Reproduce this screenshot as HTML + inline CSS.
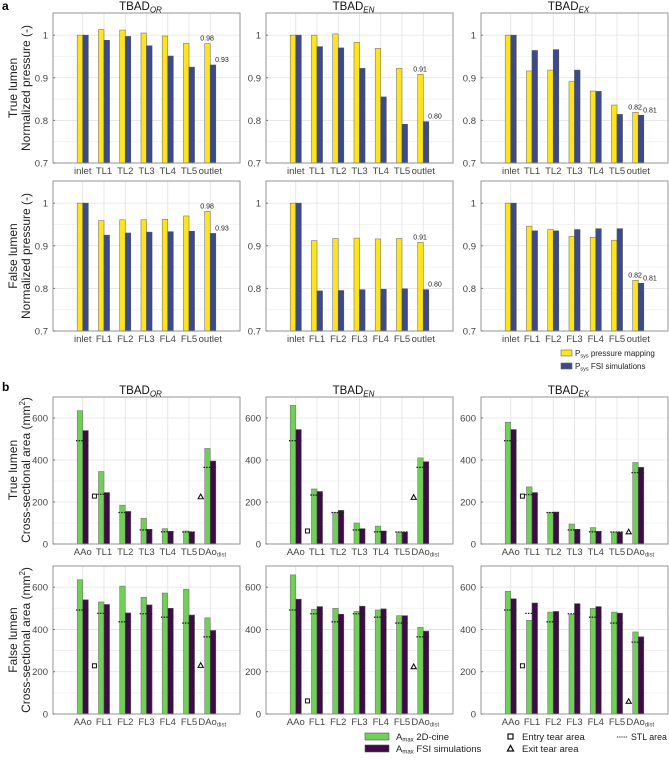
<!DOCTYPE html>
<html><head><meta charset="utf-8"><style>
body{margin:0;background:#fff;font-family:"Liberation Sans",sans-serif}
svg text{font-family:"Liberation Sans",sans-serif}
</style></head><body>
<svg id="c" width="669" height="756" xmlns="http://www.w3.org/2000/svg"></svg>
<script>
const catsA=["inlet","TL1","TL2","TL3","TL4","TL5","outlet"];
const catsAF=["inlet","FL1","FL2","FL3","FL4","FL5","outlet"];
const catsB=["AAo","TL1","TL2","TL3","TL4","TL5","DAo"];
const catsBF=["AAo","FL1","FL2","FL3","FL4","FL5","DAo"];
const titles=["OR","EN","EX"];
const pmapTL_OR=[1,1.013,1.012,1.005,0.998,0.981,0.98];
const pfsiTL_OR=[1,0.988,0.997,0.975,0.951,0.925,0.93];
const pmapTL_EN=[1,1.0,1.003,0.983,0.969,0.922,0.908];
const pfsiTL_EN=[1,0.973,0.970,0.922,0.855,0.791,0.797];
const pmapTL_EX=[1,0.916,0.918,0.891,0.869,0.836,0.819];
const pfsiTL_EX=[1,0.964,0.966,0.918,0.868,0.814,0.812];
const pmapFL_OR=[1,0.959,0.961,0.961,0.962,0.970,0.981];
const pfsiFL_OR=[1,0.925,0.930,0.932,0.933,0.934,0.929];
const pmapFL_EN=[1,0.912,0.917,0.918,0.916,0.917,0.908];
const pfsiFL_EN=[1,0.794,0.795,0.797,0.798,0.799,0.797];
const pmapFL_EX=[1,0.946,0.938,0.922,0.920,0.913,0.819];
const pfsiFL_EX=[1,0.935,0.935,0.938,0.940,0.940,0.812];
const outLabMap=["0.98","0.91","0.82"];
const outLabFsi=["0.93","0.80","0.81"];
const cineTL_OR=[635,345,185,122,73,62,455];
const fsiTL_OR=[540,245,155,70,60,58,395];
const stlTL_OR=[492,237,150,67,58,57,365];
const cineTL_EN=[660,262,150,100,85,57,410];
const fsiTL_EN=[545,250,160,73,62,57,392];
const stlTL_EN=[492,233,150,67,58,57,365];
const cineTL_EX=[580,272,150,95,78,57,388];
const fsiTL_EX=[545,245,152,70,60,57,365];
const stlTL_EX=[492,235,150,67,58,57,340];
const cineFL_OR=[635,530,605,552,572,590,455];
const fsiFL_OR=[540,518,478,516,500,468,395];
const stlFL_OR=[492,476,436,474,458,430,365];
const cineFL_EN=[658,495,500,485,492,465,410];
const fsiFL_EN=[543,508,472,510,497,465,392];
const stlFL_EN=[492,474,436,474,458,430,365];
const cineFL_EX=[580,443,482,470,500,482,388];
const fsiFL_EX=[545,525,485,522,508,477,365];
const stlFL_EX=[492,476,436,474,458,430,340];
const entryTear=[228,62,228];
const exitTear=[225,222,58];
const entryTearF=[228,62,228];
const exitTearF=[230,224,60];

const NS="http://www.w3.org/2000/svg";
const svg=document.getElementById('c');
function mk(tag,attrs,parent){const e=document.createElementNS(NS,tag);for(const k in attrs)e.setAttribute(k,attrs[k]);(parent||svg).appendChild(e);return e;}
function txt(s,x,y,size,anchor,fill,parent){const t=mk('text',{x:x,y:y,'font-size':size,'text-anchor':anchor||'middle',fill:fill||'#333'},parent);t.textContent=s;return t;}

const LEFTS=[53,266,481],W=187,XMIN=-0.4,XMAX=8.4,BW=0.26;

function panel(opts){
  const g=mk('g',{});
  
  
  const L=opts.left,T=opts.top,H=opts.h;
  const sx=v=>L+(v-XMIN)/(XMAX-XMIN)*W;
  const sy=v=>T+H-(v-opts.ymin)/(opts.ymax-opts.ymin)*H;
  const bw=sx(BW)-sx(0);
  opts.minor.forEach(v=>mk('line',{x1:L,x2:L+W,y1:sy(v),y2:sy(v),stroke:'#f0f0f0','stroke-width':0.8},g));
  opts.ticks.forEach(v=>mk('line',{x1:L,x2:L+W,y1:sy(v),y2:sy(v),stroke:'#e2e2e2','stroke-width':0.8},g));
  for(let i=1;i<=7;i++)mk('line',{x1:sx(i),x2:sx(i),y1:T,y2:T+H,stroke:'#e2e2e2','stroke-width':0.8},g);
  opts.s1.forEach((v,i)=>{const r=mk('rect',{x:sx(i+1-BW),y:sy(v),width:bw,height:sy(opts.ymin)-sy(v),fill:opts.c1,stroke:'#777','stroke-width':0.6},g);
    
    });
  opts.s2.forEach((v,i)=>{const r=mk('rect',{x:sx(i+1),y:sy(v),width:bw,height:sy(opts.ymin)-sy(v),fill:opts.c2,stroke:'#555','stroke-width':0.6},g);
    
    });
  if(opts.stl)opts.stl.forEach((v,i)=>{const l=mk('line',{x1:sx(i+1-0.32),x2:sx(i+1+0.32),y1:sy(v),y2:sy(v),stroke:'#222','stroke-width':1.3,'stroke-dasharray':'1.5,1.2'},g);
    
    });
  if(opts.entry!=null){const s=mk('rect',{x:sx(1.55)-2,y:sy(opts.entry)-2,width:4,height:4,fill:'#fff',stroke:'#111','stroke-width':1},g);
    }
  if(opts.exit!=null){const x=sx(6.55),y=sy(opts.exit);const p=mk('polygon',{points:`${x-2.6},${y+2} ${x+2.6},${y+2} ${x},${y-2.6}`,fill:'#fff',stroke:'#111','stroke-width':1.1},g);
    }
  if(opts.lab1){txt(opts.lab1,sx(6.85),sy(opts.s1[6])-3,7,'middle','#222',g);
    txt(opts.lab2,sx(7.55),sy(opts.s2[6])-3,7,'middle','#222',g);}
  mk('rect',{x:L,y:T,width:W,height:H,fill:'none',stroke:'#8a8a8a','stroke-width':0.9},g);
  opts.ticks.forEach(v=>{mk('line',{x1:L,x2:L+2,y1:sy(v),y2:sy(v),stroke:'#777'},g);txt(opts.tf(v),L-5,sy(v)+3.5,9.5,'end','#444',g);});
  opts.cats.forEach((c,i)=>{
    const t=txt(c,sx(i+1)+(c==='DAo'?2:0),T+H+11,9.5,'middle','#444',g);
    if(c==='DAo'){const ts=mk('tspan',{'font-size':6,dy:1.5},t);ts.textContent='dist';}
  });
  if(opts.title){const t=txt('TBAD',L+W/2-6,T-3,11.5,'middle','#111',g);const ts=mk('tspan',{'font-size':8,'font-style':'italic',dy:2.5},t);ts.textContent=opts.title;
    }
  return g;
}
function ylabel(l1,l2,cy,sup){
  const t1=txt(l1,0,0,12,'middle','#222');t1.setAttribute('transform',`translate(17,${cy}) rotate(-90)`);
  
  const t2=txt(l2,0,0,12,'middle','#222');t2.setAttribute('transform',`translate(30,${cy}) rotate(-90)`);
  
  if(sup){const s=mk('tspan',{'font-size':8,dy:-5},t2);s.textContent='2';const s2=mk('tspan',{dy:5},t2);s2.textContent=')';}
}
const pT=[[pmapTL_OR,pfsiTL_OR],[pmapTL_EN,pfsiTL_EN],[pmapTL_EX,pfsiTL_EX]];
const pF=[[pmapFL_OR,pfsiFL_OR],[pmapFL_EN,pfsiFL_EN],[pmapFL_EX,pfsiFL_EX]];
const aT=[[cineTL_OR,fsiTL_OR,stlTL_OR],[cineTL_EN,fsiTL_EN,stlTL_EN],[cineTL_EX,fsiTL_EX,stlTL_EX]];
const aF=[[cineFL_OR,fsiFL_OR,stlFL_OR],[cineFL_EN,fsiFL_EN,stlFL_EN],[cineFL_EX,fsiFL_EX,stlFL_EX]];
const pf=v=>v===1?'1':v.toFixed(1);
const YEL='#ffe41c',BLU='#3b4a8c',GRN='#6fcf56',PUR='#3e0a47';
for(let k=0;k<3;k++){
  panel({name:'pressure-tl-'+titles[k].toLowerCase(),left:LEFTS[k],top:13,h:150,ymin:0.7,ymax:1.052,ticks:[0.7,0.8,0.9,1],minor:[0.75,0.85,0.95],tf:pf,cats:catsA,s1:pT[k][0],s2:pT[k][1],c1:YEL,c2:BLU,key1:'pmap',key2:'pfsi',lab1:outLabMap[k],lab2:outLabFsi[k],title:titles[k]});
  panel({name:'pressure-fl-'+titles[k].toLowerCase(),left:LEFTS[k],top:181,h:150,ymin:0.7,ymax:1.052,ticks:[0.7,0.8,0.9,1],minor:[0.75,0.85,0.95],tf:pf,cats:catsAF,s1:pF[k][0],s2:pF[k][1],c1:YEL,c2:BLU,key1:'pmap',key2:'pfsi',lab1:outLabMap[k],lab2:outLabFsi[k]});
  panel({name:'area-tl-'+titles[k].toLowerCase(),left:LEFTS[k],top:397,h:147,ymin:0,ymax:700,ticks:[0,200,400,600],minor:[100,300,500],tf:v=>String(v),cats:catsB,s1:aT[k][0],s2:aT[k][1],stl:aT[k][2],c1:GRN,c2:PUR,key1:'cine',key2:'fsi',entry:entryTear[k],exit:exitTear[k],title:titles[k]});
  panel({name:'area-fl-'+titles[k].toLowerCase(),left:LEFTS[k],top:566,h:148,ymin:0,ymax:700,ticks:[0,200,400,600],minor:[100,300,500],tf:v=>String(v),cats:catsBF,s1:aF[k][0],s2:aF[k][1],stl:aF[k][2],c1:GRN,c2:PUR,key1:'cine',key2:'fsi',entry:entryTearF[k],exit:exitTearF[k]});
}
ylabel('True lumen','Normalized pressure (-)',88);
ylabel('False lumen','Normalized pressure (-)',256);
ylabel('True lumen','Cross-sectional area (mm',470,true);
ylabel('False lumen','Cross-sectional area (mm',640,true);
const la=txt('a',2,10,12,'start','#000');la.setAttribute('font-weight','bold');

const lb=txt('b',2,391,12,'start','#000');lb.setAttribute('font-weight','bold');

function legItem(x,y,color,main,sub,rest,name){
  const g=mk('g',{});
  mk('rect',{x:x,y:y-6,width:11,height:6,fill:color,stroke:'#666','stroke-width':0.6},g);
  const t=txt(main,x+14,y,8,'start','#222',g);
  const s=mk('tspan',{'font-size':5.5,dy:1.5},t);s.textContent=sub;
  const r=mk('tspan',{dy:-1.5},t);r.textContent=rest;
}
legItem(561,356,YEL,'P','sys',' pressure mapping','legend-entry-pressure-mapping');
legItem(561,369,BLU,'P','sys',' FSI simulations','legend-entry-fsi-simulations');
function legB(x,y,color,rest,name){
  const g=mk('g',{});
  mk('rect',{x:x,y:y-7,width:24,height:7,fill:color,stroke:'#555','stroke-width':0.6},g);
  const t=txt('A',x+31,y,9.5,'start','#222',g);
  const s=mk('tspan',{'font-size':6,dy:1.5},t);s.textContent='max';
  const r=mk('tspan',{dy:-1.5},t);r.textContent=rest;
}
legB(365,740,GRN,' 2D-cine','legend-entry-2d-cine');
legB(365,752,PUR,' FSI simulations','legend-entry-fsi-area');
{const g=mk('g',{});
mk('rect',{x:508,y:734,width:5,height:5,fill:'#fff',stroke:'#111','stroke-width':1.2},g);txt('Entry tear area',522,740,9.5,'start','#222',g);}
{const g=mk('g',{});
mk('polygon',{points:'507.5,751 513.5,751 510.5,745.5',fill:'#fff',stroke:'#111','stroke-width':1.3},g);txt('Exit tear area',522,752,9.5,'start','#222',g);}
{const g=mk('g',{});
mk('line',{x1:617,x2:627,y1:737,y2:737,stroke:'#222','stroke-width':1,'stroke-dasharray':'1.2,1'},g);txt('STL area',631,740,8.8,'start','#222',g);}
</script>
</body></html>
